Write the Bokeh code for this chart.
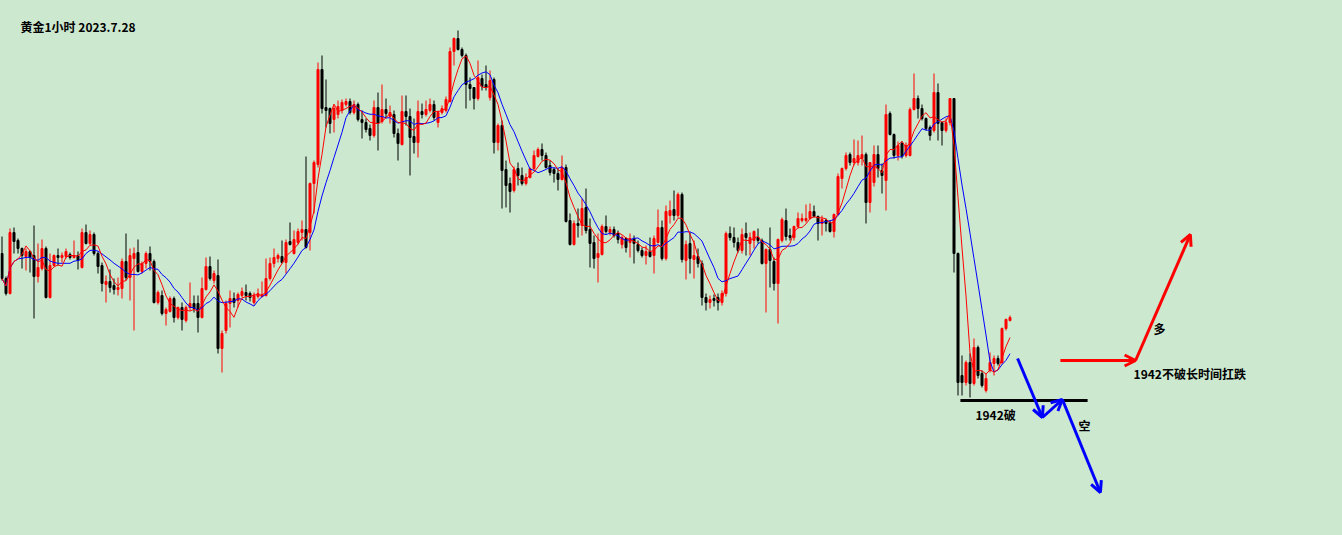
import pandas as pd
from bokeh.plotting import figure
from bokeh.models import Range1d, ColumnDataSource, Label, Arrow, OpenHead
from bokeh.embed import file_html
from bokeh.resources import INLINE

# ---- data: XAUUSD 1-hour candles ----
open_ = [
 1956.7,1954.2,1952.7,1958.8,1958.0,1957.2,1956.4,1956.9,1956.5,1954.4,
 1955.2,1957.2,1952.3,1955.5,1956.5,1956.3,1956.4,1956.6,1956.3,1956.5,
 1955.3,1958.8,1957.7,1958.6,1956.7,1955.5,1953.6,1953.9,1953.5,1953.1,
 1953.2,1955.9,1954.3,1956.2,1956.8,1954.9,1955.7,1956.7,1955.9,1951.8,
 1952.5,1950.7,1950.9,1952.2,1950.3,1951.3,1950.0,1951.3,1951.7,1951.7,
 1950.3,1953.1,1955.4,1954.0,1954.5,1947.2,1949.0,1951.7,1952.2,1952.0,
 1952.5,1952.8,1952.7,1951.8,1952.4,1952.4,1952.5,1954.2,1955.7,1956.2,
 1956.4,1955.8,1957.9,1956.7,1957.8,1958.8,1959.1,1958.8,1963.7,1965.6,
 1975.1,1971.3,1971.2,1970.1,1970.6,1971.0,1971.6,1971.9,1970.8,1971.6,
 1970.1,1969.8,1969.2,1968.5,1971.3,1969.9,1971.1,1970.4,1970.6,1968.7,
 1967.6,1970.9,1970.4,1968.4,1967.8,1970.9,1970.6,1971.0,1971.6,1969.8,
 1970.8,1971.0,1971.9,1976.9,1978.2,1977.1,1976.5,1973.6,1973.3,1972.2,
 1974.2,1973.6,1972.3,1974.1,1967.8,1969.5,1965.1,1963.7,1963.0,1965.2,
 1964.5,1963.7,1964.3,1965.2,1966.4,1967.1,1966.5,1965.5,1965.1,1964.7,
 1964.1,1965.3,1960.0,1957.6,1959.7,1959.5,1961.3,1959.1,1957.8,1956.3,
 1956.6,1959.4,1958.8,1959.1,1958.7,1957.6,1958.2,1957.8,1958.2,1957.6,
 1957.0,1956.5,1956.9,1956.5,1957.8,1959.3,1956.2,1960.5,1961.1,1960.5,
 1962.6,1956.0,1957.7,1956.1,1956.4,1955.7,1952.3,1951.8,1952.2,1952.3,
 1951.8,1952.7,1958.7,1958.3,1957.8,1957.0,1958.7,1957.7,1958.0,1958.3,
 1958.0,1955.7,1957.1,1955.9,1953.7,1958.0,1960.0,1958.5,1958.3,1959.4,
 1960.0,1960.0,1960.2,1960.9,1960.4,1959.7,1960.0,1959.8,1958.9,1960.6,
 1964.2,1965.2,1966.6,1965.8,1965.8,1966.2,1966.6,1961.8,1963.8,1966.6,
 1965.0,1964.0,1970.7,1968.6,1966.5,1967.7,1966.5,1966.5,1971.1,1972.2,
 1971.2,1970.2,1969.3,1969.0,1972.8,1969.8,1969.0,1969.8,1972.2,1956.7,
 1944.5,1943.8,1945.8,1943.7,1947.3,1944.7,1943.0,1945.0,1945.7,1946.2,
 1945.8,1949.2,1950.0,
]
high = [
 1958.4,1954.4,1959.2,1959.3,1958.2,1957.3,1957.2,1957.0,1959.5,1957.7,
 1958.1,1957.4,1956.7,1956.6,1957.2,1956.8,1957.2,1956.8,1958.0,1956.9,
 1959.2,1959.6,1959.0,1958.8,1956.9,1955.8,1954.5,1955.1,1954.2,1954.3,
 1956.2,1958.7,1957.2,1957.3,1958.1,1955.9,1956.9,1957.4,1956.1,1953.0,
 1953.0,1951.3,1952.4,1952.4,1951.4,1951.8,1951.5,1953.8,1952.5,1952.5,
 1954.3,1956.3,1956.4,1955.0,1956.1,1949.0,1952.0,1953.0,1952.8,1952.8,
 1953.3,1953.6,1952.9,1952.8,1953.2,1953.9,1956.2,1956.3,1957.2,1956.7,
 1958.0,1958.1,1959.8,1959.0,1959.2,1960.0,1966.4,1963.8,1966.0,1975.8,
 1976.5,1974.1,1971.3,1971.5,1972.0,1972.1,1972.2,1972.2,1972.0,1971.8,
 1971.0,1970.2,1969.6,1972.0,1972.8,1973.6,1972.2,1971.5,1971.0,1969.2,
 1972.5,1972.5,1971.2,1970.2,1972.0,1971.7,1972.0,1972.2,1972.0,1971.0,
 1971.5,1972.4,1977.3,1978.3,1979.0,1977.3,1976.7,1974.3,1973.3,1976.0,
 1974.6,1975.5,1975.0,1974.3,1969.7,1970.0,1966.0,1964.3,1965.4,1965.8,
 1965.3,1964.7,1965.3,1967.0,1967.3,1967.7,1966.8,1966.0,1965.3,1965.2,
 1966.5,1965.6,1960.7,1960.0,1961.2,1962.2,1963.2,1960.2,1958.5,1958.7,
 1959.6,1960.5,1959.4,1959.4,1959.0,1958.5,1958.3,1958.7,1958.5,1958.0,
 1957.3,1957.5,1958.3,1958.5,1961.1,1960.0,1961.5,1962.0,1963.0,1962.8,
 1962.8,1958.0,1958.8,1958.0,1957.2,1956.0,1952.7,1952.5,1952.6,1952.7,
 1953.0,1958.9,1959.4,1959.3,1958.3,1959.2,1959.8,1958.8,1959.0,1959.2,
 1958.2,1957.2,1959.3,1956.3,1958.2,1960.3,1961.2,1959.2,1959.5,1960.8,
 1960.7,1961.6,1961.7,1961.5,1960.5,1960.5,1960.2,1960.0,1960.7,1964.7,
 1965.3,1966.8,1966.8,1968.1,1968.0,1968.5,1966.8,1965.8,1967.5,1967.5,
 1965.7,1971.6,1970.9,1968.7,1967.9,1967.9,1967.8,1971.3,1974.7,1972.5,
 1971.6,1970.3,1969.5,1974.7,1973.7,1969.9,1970.2,1972.2,1972.2,1956.8,
 1946.5,1946.0,1946.7,1948.2,1947.5,1945.0,1944.7,1946.8,1946.5,1946.5,
 1949.3,1950.2,1950.5,
]
low = [
 1954.0,1952.5,1952.6,1956.7,1956.7,1955.2,1955.0,1954.8,1950.2,1953.8,
 1955.0,1952.2,1952.2,1955.4,1955.5,1955.8,1956.2,1956.1,1956.2,1955.1,
 1955.2,1957.6,1957.5,1956.5,1954.7,1952.9,1951.8,1952.8,1952.6,1952.5,
 1952.2,1954.0,1952.0,1949.0,1954.8,1954.7,1955.2,1955.0,1951.7,1951.6,
 1950.5,1949.5,1950.8,1949.8,1950.1,1949.0,1949.8,1951.0,1950.8,1948.8,
 1950.2,1953.0,1954.0,1953.7,1946.7,1944.8,1948.7,1949.3,1951.3,1951.3,
 1952.3,1952.0,1951.9,1951.6,1952.2,1952.3,1952.4,1954.0,1955.3,1955.8,
 1955.7,1954.7,1957.5,1956.6,1957.6,1958.0,1957.2,1957.0,1960.7,1965.3,
 1970.7,1969.3,1968.7,1968.8,1970.2,1970.7,1971.4,1970.6,1970.6,1969.9,
 1968.2,1968.8,1968.0,1968.3,1967.0,1969.7,1970.2,1969.7,1968.3,1966.0,
 1967.5,1969.5,1964.5,1966.7,1966.3,1970.2,1970.4,1970.8,1970.0,1969.3,
 1970.6,1970.8,1971.8,1975.5,1977.0,1976.3,1971.2,1972.0,1971.1,1972.0,
 1973.0,1973.0,1972.0,1966.7,1967.0,1961.2,1961.3,1960.8,1962.8,1963.5,
 1963.5,1963.5,1964.2,1965.0,1966.3,1966.0,1965.2,1964.5,1963.8,1963.0,
 1964.0,1959.8,1957.5,1957.5,1958.3,1958.5,1958.7,1955.3,1955.2,1953.8,
 1956.5,1958.7,1958.5,1958.3,1957.7,1957.2,1956.8,1956.3,1955.7,1956.8,
 1956.3,1955.6,1956.3,1954.7,1957.7,1956.0,1956.0,1959.7,1960.0,1960.3,
 1955.8,1954.1,1954.7,1954.2,1955.3,1951.5,1951.0,1951.2,1951.4,1951.0,
 1951.5,1952.4,1958.0,1957.3,1956.8,1956.7,1956.5,1956.5,1957.2,1957.7,
 1955.6,1950.8,1953.3,1953.0,1949.7,1957.8,1958.0,1958.0,1958.0,1959.2,
 1959.8,1959.8,1960.1,1960.3,1958.0,1958.5,1958.9,1958.8,1958.3,1960.5,
 1963.2,1965.0,1965.5,1965.5,1965.5,1965.5,1959.7,1960.8,1963.4,1964.3,
 1962.7,1961.0,1968.5,1966.2,1966.0,1966.2,1966.3,1966.4,1971.0,1970.2,
 1970.0,1969.0,1968.0,1968.8,1968.0,1967.5,1968.8,1969.5,1954.8,1942.5,
 1942.5,1943.5,1942.3,1943.5,1944.2,1943.3,1942.8,1944.8,1944.5,1945.5,
 1945.6,1949.0,1949.9,
]
close = [
 1954.2,1952.7,1958.8,1957.9,1957.2,1956.5,1956.9,1956.3,1954.4,1955.3,
 1957.2,1952.3,1955.5,1956.5,1956.3,1956.5,1956.9,1956.3,1956.5,1956.0,
 1958.8,1957.7,1958.6,1956.7,1955.4,1953.7,1953.9,1953.3,1953.1,1953.3,
 1955.9,1954.3,1956.5,1956.7,1954.9,1955.7,1956.7,1955.9,1951.8,1952.8,
 1950.7,1951.1,1952.2,1950.3,1951.3,1950.1,1951.3,1951.7,1951.2,1950.3,
 1953.2,1955.4,1954.2,1954.7,1947.2,1948.7,1951.7,1952.2,1951.8,1952.6,
 1952.9,1952.5,1952.3,1952.5,1952.7,1952.6,1954.2,1955.7,1956.3,1956.5,
 1955.8,1957.8,1957.6,1958.1,1958.9,1959.1,1957.3,1963.7,1965.8,1975.1,
 1971.2,1971.0,1969.7,1971.2,1971.4,1971.8,1971.9,1970.8,1971.6,1970.1,
 1969.8,1969.1,1968.5,1971.3,1969.7,1971.1,1970.7,1970.8,1968.7,1967.7,
 1970.9,1970.4,1968.3,1967.8,1970.9,1970.6,1971.1,1971.6,1970.3,1970.8,
 1971.2,1972.1,1976.9,1978.2,1977.1,1976.5,1973.6,1973.2,1972.2,1974.3,
 1973.4,1973.3,1974.0,1967.8,1969.5,1965.0,1963.5,1962.9,1965.1,1964.5,
 1963.7,1964.3,1965.2,1966.5,1967.1,1966.5,1965.3,1964.8,1964.7,1964.1,
 1965.3,1959.9,1957.6,1959.7,1959.5,1961.2,1959.0,1957.7,1956.2,1956.7,
 1959.4,1958.9,1959.1,1958.5,1958.1,1958.3,1957.3,1958.2,1957.7,1957.0,
 1956.5,1956.9,1956.4,1958.2,1959.3,1956.2,1960.9,1961.0,1960.5,1962.6,
 1956.1,1957.6,1956.2,1956.5,1955.7,1952.3,1951.8,1952.1,1952.0,1951.8,
 1952.7,1958.7,1958.3,1957.8,1957.0,1958.6,1958.3,1958.3,1958.9,1958.0,
 1955.7,1957.1,1956.0,1953.7,1958.1,1960.1,1958.4,1958.3,1959.4,1960.2,
 1960.2,1960.2,1960.9,1960.4,1959.7,1960.1,1959.7,1958.9,1960.6,1964.4,
 1965.2,1966.5,1965.8,1966.2,1966.5,1966.6,1961.8,1965.8,1966.6,1965.2,
 1964.5,1970.6,1968.6,1966.5,1967.5,1966.4,1967.5,1971.1,1972.2,1971.2,
 1970.2,1969.2,1968.5,1972.8,1969.7,1969.0,1969.8,1972.2,1956.7,1943.8,
 1943.8,1945.8,1943.7,1947.3,1944.5,1943.5,1944.2,1945.8,1946.2,1945.7,
 1949.2,1950.1,1950.3,
]
title_text = "黄金1小时 2023.7.28"
support_level = 1942
note_break = "1942破"
note_hold = "1942不破长时间扛跌"
note_long = "多"
note_short = "空"

BG = "#CCE8CF"

df = pd.DataFrame({"open": open_, "high": high, "low": low, "close": close})
df["i"] = range(len(df))
df["top"] = df[["open", "close"]].max(axis=1)
df["bottom"] = df[["open", "close"]].min(axis=1)
df["color"] = ["#FF0000" if c > o else "#000000" for o, c in zip(df["open"], df["close"])]
df["ma5"] = df["close"].rolling(5, min_periods=1).mean()
df["ma10"] = df["close"].rolling(10, min_periods=1).mean()
src = ColumnDataSource(df)

W, H = 1342, 535
p = figure(width=W, height=H, output_backend="svg", toolbar_location=None,
           x_range=Range1d(-0.375, -0.375 + W / 4.0),
           y_range=Range1d(1982.0 - H / 10.0, 1982.0),
           x_axis_location=None, y_axis_location=None,
           min_border=0, title=None)
p.xgrid.visible = False
p.ygrid.visible = False
p.outline_line_color = None
p.background_fill_color = BG
p.border_fill_color = BG

p.segment(x0="i", x1="i", y0="low", y1="high", color="color", line_width=1, source=src)
p.vbar(x="i", width=0.5, top="top", bottom="bottom", fill_color="color",
       line_color="color", line_width=1, source=src)
p.line(x="i", y="ma10", color="#0000FF", line_width=1, source=src)
p.line(x="i", y="ma5", color="#FF0000", line_width=1, source=src)

# support line at 1942
p.segment(x0=[239.6], x1=[271.4], y0=[support_level], y1=[support_level],
          color="#000000", line_width=3)

def arrow(x0, y0, x1, y1, col):
    p.add_layout(Arrow(end=OpenHead(line_color=col, line_width=3, size=11),
                       x_start=x0, y_start=y0, x_end=x1, y_end=y1,
                       line_color=col, line_width=3))

arrow(253.9, 1946.2, 260.1, 1940.3, "#0000FF")
arrow(260.1, 1940.3, 265.1, 1942.1, "#0000FF")
arrow(265.1, 1942.1, 274.6, 1932.8, "#0000FF")
arrow(264.6, 1946.0, 283.4, 1946.0, "#FF0000")
arrow(283.4, 1946.0, 297.1, 1958.6, "#FF0000")

FONT = "Noto Sans CJK SC"
def label(x, y, text, align="left"):
    p.add_layout(Label(x=x, y=y, text=text, text_font=FONT, text_font_style="bold",
                       text_font_size="12px", text_color="#000000",
                       text_align=align, text_baseline="middle"))

label(4.625, 1979.4, title_text)
label(248.4, 1940.6, note_break, "center")
label(270.6, 1939.5, note_short, "center")
label(289.4, 1949.2, note_long, "center")
label(282.9, 1944.7, note_hold)

html = file_html(p, INLINE)
html = html.replace("</head>", "<style>body{background:%s;}</style></head>" % BG, 1)
open("out.html", "w").write(html)
